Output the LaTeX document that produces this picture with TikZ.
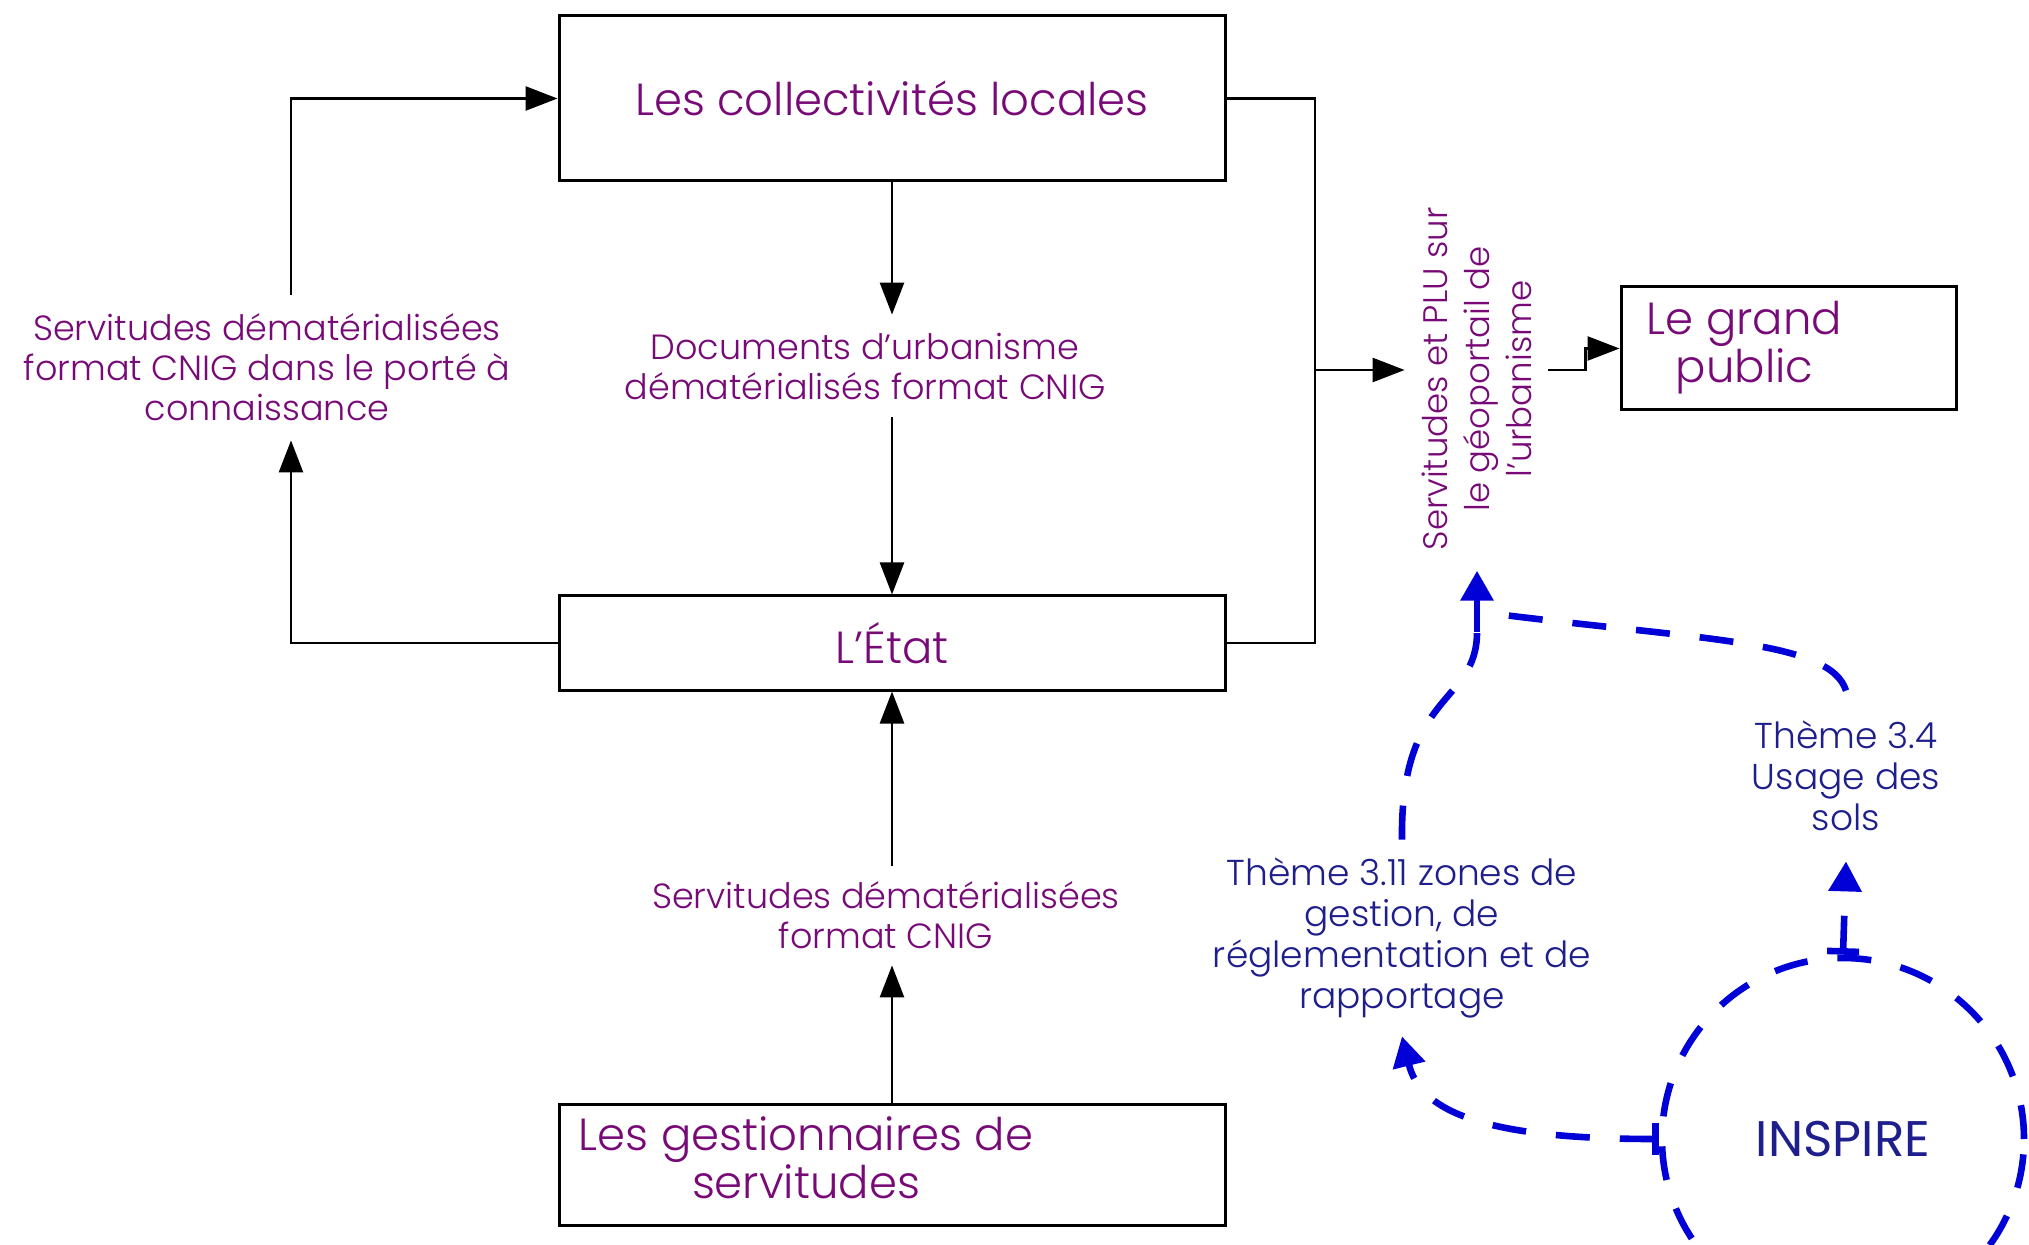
\documentclass[tikz,border=0pt]{standalone}
\usepackage{fontspec}
\setmainfont{Poppins}[UprightFont=* Light]
\newfontfamily\popreg{Poppins}
\usetikzlibrary{arrows.meta}
\definecolor{purp}{RGB}{120,10,120}
\definecolor{navy}{RGB}{30,30,140}
\definecolor{bl}{RGB}{0,0,215}
\begin{document}
\begin{tikzpicture}[x=0.5pt,y=-0.5pt,
  box/.style={draw=black,line width=1.5pt,inner sep=0pt,text=purp,font=\fontsize{22.5pt}{23pt}\selectfont},
  lab/.style={font=\fontsize{17.5pt}{20pt}\selectfont,text=purp,align=center,inner sep=0pt},
  blab/.style={font=\fontsize{18pt}{20.5pt}\selectfont,text=navy,align=center,inner sep=0pt},
  conn/.style={line width=1.3pt,black},
  arr/.style={conn,-{Triangle[length=16pt,width=12pt]}},
  bdash/.style={bl,line width=3.3pt,dash pattern=on 17pt off 15pt},
  barr/.style={bdash,-{Triangle[length=15pt,width=16pt]}},
  btee/.style={bdash,{Bar[width=16pt]}-{Triangle[length=15pt,width=16pt]}},
]
\clip (0,0) rectangle (2029,1245);
\fill[white] (0,0) rectangle (2029,1245);

% boxes
\node[box,minimum width=333pt,minimum height=82.5pt] (coll) at (892,98.5) {Les collectivités locales};
\node[box,minimum width=333pt,minimum height=47pt] (etat) at (892,643) {L’État};
\node[box,minimum width=333pt,minimum height=60.5pt] (gest) at (892,1164.5)
  {\begin{tabular}{@{}c@{}}Les gestionnaires de\\servitudes\end{tabular}\hspace*{86pt}};
\node[box,minimum width=167.5pt,minimum height=61.5pt] (public) at (1788.5,348.5)
  {\begin{tabular}{@{}c@{}}Le grand\\public\end{tabular}\hspace*{44pt}};

% labels
\node[lab,minimum height=72.5pt] (lab1) at (267,367.5)
  {Servitudes dématérialisées\\format CNIG dans le porté à\\connaissance};
\node[lab,minimum height=51pt] (lab2) at (865,366)
  {Documents d’urbanisme\\dématérialisés format CNIG};
\node[lab,minimum height=49.5pt] (lab3) at (886,915.5)
  {Servitudes dématérialisées\\format CNIG};
\node[lab,rotate=90,minimum height=71.5pt,font=\fontsize{17pt}{21pt}\selectfont] (geo) at (1476.5,379)
  {Servitudes et PLU sur\\le géoportail de\\l\char"0027urbanisme};

% black connectors
\coordinate (rx) at (1315,370);
\coordinate (lx) at (291,0);
\draw[conn] (coll.east) -| (rx) |- (etat.east);
\draw[arr] (rx) -- (rx -| geo.north);
\draw[arr] (rx -| geo.south) -- ++(37,0) |- (public.west);
\draw[arr] (etat.west) -| (lx |- lab1.south);
\draw[arr] (lx |- lab1.north) |- (coll.west);
\draw[arr] (coll.south) -- (coll.south |- lab2.north);
\draw[arr] (etat.north |- lab2.south) -- (etat.north);
\draw[arr] (gest.north) -- (gest.north |- lab3.south);
\draw[arr] (etat.south |- lab3.north) -- (etat.south);

% INSPIRE part
\node[draw=bl,line width=3.3pt,dash pattern=on 17pt off 15pt,circle,minimum size=181pt,inner sep=0pt,
      text=navy,font=\popreg\fontsize{25pt}{25pt}\selectfont] (inspire) at (1843,1139) {INSPIRE};
\node[blab,minimum height=85pt] (t34) at (1846,776) {Thème 3.4\\Usage des\\sols};
\node[blab,minimum height=98pt] (t311) at (1402,938)
  {Thème 3.11 zones de\\gestion, de\\réglementation et de\\rapportage};
\coordinate (join) at (1477,632);
\coordinate (join2) at (1488,613);

\draw[btee] (inspire.north) -- (t34.south);
\draw[btee] (inspire.west) .. controls (1480,1139) and (1420,1110) .. (t311.south);
\draw[bdash] (t311.north) .. controls (1400,690) and (1477,705) .. (join);
\draw[bdash] (t34.north) .. controls (1830,640) and (1700,640) .. (join2);
\draw[barr,shorten >=10pt] (join) -- (join |- geo.west);
\end{tikzpicture}
\end{document}
